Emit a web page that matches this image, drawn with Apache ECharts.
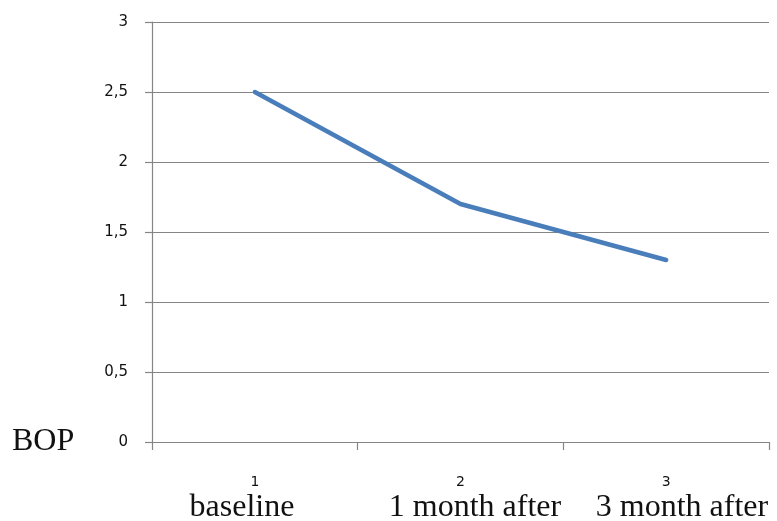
<!DOCTYPE html>
<html>
<head>
<meta charset="utf-8">
<style>
  html, body { margin: 0; padding: 0; background: #ffffff; }
  #chart { width: 777px; height: 521px; }
</style>
<script src="https://cdn.jsdelivr.net/npm/echarts@6/dist/echarts.min.js"></script>
</head>
<body>
<div id="chart"></div>
<script>
// Time points on the category axis and the mean BOP score at each
const categories = ['1', '2', '3'];
const bopValues = [2.5, 1.7, 1.3];
// Period names written under the axis
const periodNames = ['baseline', '1 month after', '3 month after'];
const yAxisTitle = 'BOP';

const chart = echarts.init(document.getElementById('chart'), null, { renderer: 'canvas' });

const serif = '"Liberation Serif", "Times New Roman", serif';
const sans = '"DejaVu Sans", sans-serif';
const gridColor = '#858585';

// Period name positions (center x) on the shared text row
const periodX = [242, 475, 682];

const option = {
  animation: false,
  backgroundColor: '#ffffff',
  grid: { left: 152, right: 8, top: 22, bottom: 79, containLabel: false },
  xAxis: {
    type: 'category',
    data: categories,
    boundaryGap: true,
    axisLine: { show: true, lineStyle: { color: gridColor, width: 1.2 } },
    axisTick: { show: true, length: 8, inside: false, lineStyle: { color: gridColor, width: 1.2 } },
    axisLabel: { margin: 33, fontSize: 14, color: '#111', fontFamily: sans },
    splitLine: { show: false }
  },
  yAxis: {
    type: 'value',
    min: 0,
    max: 3,
    interval: 0.5,
    axisLine: { show: true, lineStyle: { color: gridColor, width: 1.2 } },
    axisTick: { show: true, length: 7, inside: false, lineStyle: { color: gridColor, width: 1.2 } },
    axisLabel: {
      margin: 24,
      fontSize: 15,
      color: '#111',
      fontFamily: sans,
      formatter: v => String(v).replace('.', ',')
    },
    splitLine: { show: true, lineStyle: { color: gridColor, width: 1.2 } }
  },
  series: [{
    type: 'line',
    data: bopValues,
    showSymbol: false,
    symbol: 'none',
    lineStyle: { color: '#4a7ebb', width: 4.5, cap: 'round', join: 'round' },
    itemStyle: { color: '#4a7ebb' }
  }],
  graphic: [
    {
      type: 'text',
      x: 12,
      y: 442,
      style: {
        text: yAxisTitle,
        font: '32px ' + serif,
        fill: '#111',
        textAlign: 'left',
        textVerticalAlign: 'middle'
      }
    }
  ].concat(periodNames.map((name, i) => ({
    type: 'text',
    x: periodX[i],
    y: 508,
    style: {
      text: name,
      font: '32px ' + serif,
      fill: '#111',
      textAlign: 'center',
      textVerticalAlign: 'middle'
    }
  })))
};

chart.setOption(option);
</script>
</body>
</html>
